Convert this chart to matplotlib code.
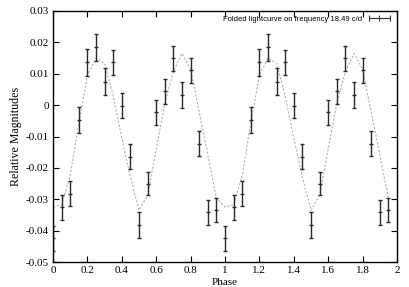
import numpy as np
import matplotlib
matplotlib.use("Agg")
import matplotlib.pyplot as plt
from matplotlib.lines import Line2D

# folded data, one cycle (repeated for phase 1-2)
phase = [0.0, 0.05, 0.10, 0.15, 0.20, 0.25, 0.30, 0.35, 0.40, 0.45,
         0.50, 0.55, 0.60, 0.65, 0.70, 0.75, 0.80, 0.85, 0.90, 0.95]
mag = [-0.0424, -0.0326, -0.0282, -0.0048, 0.0136, 0.0184, 0.0075, 0.0137, -0.0002, -0.0165,
       -0.0381, -0.0250, -0.0023, 0.0044, 0.0149, 0.0032, 0.0111, -0.0123, -0.0342, -0.0335]
err = [0.0040, 0.0040, 0.0040, 0.0041, 0.0042, 0.0042, 0.0042, 0.0040, 0.0040, 0.0040,
       0.0041, 0.0036, 0.0039, 0.0040, 0.0041, 0.0041, 0.0040, 0.0040, 0.0040, 0.0038]
# fitted curve at the same phases
model = [-0.0325, -0.0318, -0.0225, -0.0058, 0.0095, 0.0150, 0.0133, 0.0030, -0.0105, -0.0230,
         -0.0335, -0.0287, -0.0140, 0.0006, 0.0106, 0.0165, 0.0115, -0.0022, -0.0158, -0.0297]

xticks = [0, 0.2, 0.4, 0.6, 0.8, 1, 1.2, 1.4, 1.6, 1.8, 2]
xlabels = ["0", "0.2", "0.4", "0.6", "0.8", "1", "1.2", "1.4", "1.6", "1.8", "2"]
yticks = [-0.05, -0.04, -0.03, -0.02, -0.01, 0, 0.01, 0.02, 0.03]
ylabels = ["-0.05", "-0.04", "-0.03", "-0.02", "-0.01", "0", "0.01", "0.02", "0.03"]

ph = np.concatenate([phase, np.array(phase) + 1])
m = np.concatenate([mag, mag])
e = np.concatenate([err, err])
mod = np.concatenate([model, model])

fig = plt.figure(figsize=(4.09, 2.87), dpi=100)
ax = fig.add_axes([53 / 409, 25 / 287, 344 / 409, 251 / 287])

ax.plot(ph, mod, color="#b0b0b0", lw=0.8, ls=(0, (2.0, 1.5)), zorder=1)
ax.errorbar(ph, m, yerr=e, fmt="_", color="#2a2a2a", ecolor="#2a2a2a",
            elinewidth=1.0, capsize=1.6, capthick=1.0, markersize=3, zorder=2)

ax.set_xlim(0, 2)
ax.set_ylim(-0.05, 0.03)
ax.set_xticks(xticks)
ax.set_xticklabels(xlabels, family="Liberation Serif", fontsize=8)
ax.set_yticks(yticks)
ax.set_yticklabels(ylabels, family="Liberation Serif", fontsize=8)
ax.tick_params(direction="in", length=4, width=0.8, top=True, right=True, pad=3)
for s in ax.spines.values():
    s.set_linewidth(1.0)

ax.set_xlabel("Phase", family="Liberation Serif", fontsize=8, labelpad=2)
ax.set_ylabel("Relative Magnitudes", family="Liberation Serif", fontsize=8.6, labelpad=3)

h = Line2D([], [], color="#333333", lw=0.8, marker="|", markersize=4, markeredgewidth=0.8)
ax.legend([h], ["Folded lightcurve on frequency 18.49 c/d"], loc="upper right",
          frameon=False, markerfirst=False, numpoints=3, handlelength=3.4,
          handletextpad=0.6, borderaxespad=0.2, prop={"family": "Liberation Sans", "size": 5.5})

fig.savefig("out.png", dpi=100)
